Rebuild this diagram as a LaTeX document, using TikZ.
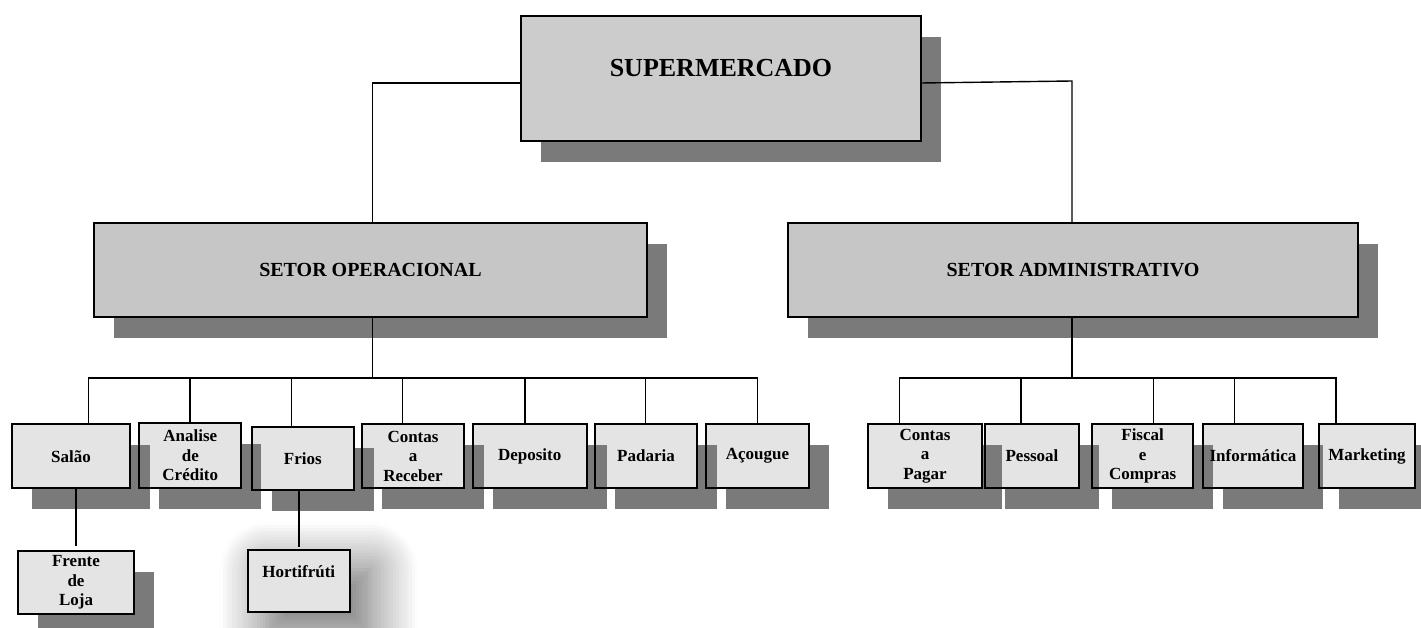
\documentclass[tikz,border=0pt]{standalone}
\usepackage{fontspec}
\setmainfont{Liberation Serif}
\usetikzlibrary{shadows.blur,calc}
\pgfdeclarelayer{fills}
\pgfsetlayers{fills,main}
\definecolor{topfill}{HTML}{CCCCCC}
\definecolor{midfill}{HTML}{C6C6C6}
\definecolor{lowfill}{HTML}{E4E4E4}
\definecolor{shadowgray}{HTML}{7A7A7A}
\tikzset{
  orgbox/.style={draw=black, line width=2pt, inner sep=0pt, outer sep=0pt, align=center},
  topbox/.style={orgbox, font=\fontsize{26}{30}\selectfont\bfseries},
  midbox/.style={orgbox, font=\fontsize{20}{24}\selectfont\bfseries, minimum height=94pt},
  lowbox/.style={orgbox, font=\fontsize{17}{19.5}\selectfont\bfseries, minimum height=64pt},
  link/.style={draw=black, line width=1.4pt},
}
\begin{document}
\begin{tikzpicture}[x=1pt,y=-1pt]
\useasboundingbox (0,0) rectangle (1421,628);
% level 1
\node[topbox, minimum width=400pt, minimum height=125pt, text height=18pt, text depth=21pt] (sup) at (721,78.5) {SUPERMERCADO};
% level 2
\node[midbox, minimum width=553pt] (op) at (370.5,270) {SETOR OPERACIONAL};
\node[midbox, minimum width=570pt] (adm) at (1073,270) {SETOR ADMINISTRATIVO};
% level 3 left
\node[lowbox, minimum width=118pt] (salao) at (71,456.3) {Salão};
\node[lowbox, minimum width=102pt, minimum height=65.6pt] (analise) at (190.3,455.5) {Analise\\de\\Crédito};
\node[lowbox, minimum width=102.3pt, minimum height=63.3pt] (frios) at (302.8,458.3) {Frios};
\node[lowbox, minimum width=102.6pt] (receber) at (413,456.3) {Contas\\a\\Receber};
\node[lowbox, minimum width=114pt, minimum height=63.4pt] (deposito) at (529.7,456) {Deposito};
\node[lowbox, minimum width=102.6pt, minimum height=63.4pt] (padaria) at (646,456) {Padaria};
\node[lowbox, minimum width=103.6pt, minimum height=63.4pt] (acougue) at (757.5,456) {Açougue};
\node[lowbox, minimum width=116.6pt, minimum height=63.3pt] (frente) at (76,582.3) {Frente\\de\\Loja};
\node[lowbox, minimum width=102.3pt, minimum height=62.6pt, text height=12pt, text depth=19pt] (horti) at (298.8,581) {Hortifrúti};
% level 3 right
\node[lowbox, minimum width=113.6pt] (pagar) at (925,456) {Contas\\a\\Pagar};
\node[lowbox, minimum width=94pt] (pessoal) at (1032,456) {Pessoal};
\node[lowbox, minimum width=101.7pt] (fiscal) at (1142.6,456) {Fiscal\\e\\Compras};
\node[lowbox, minimum width=100pt] (info) at (1253,456) {Informática};
\node[lowbox, minimum width=96.3pt] (mkt) at (1367,456) {Marketing};

% shadows and fills, drawn right to left: a box's shadow lies under its own fill
% but over the fill of the box to its right
\begin{pgfonlayer}{fills}
  \foreach \n/\c in {sup/topfill,adm/midfill,op/midfill,mkt/lowfill,info/lowfill,fiscal/lowfill,pessoal/lowfill,pagar/lowfill,acougue/lowfill,padaria/lowfill,deposito/lowfill,receber/lowfill,frios/lowfill,analise/lowfill,salao/lowfill,frente/lowfill}{
    \fill[shadowgray] ($(\n.north west)+(20,21)$) rectangle ($(\n.south east)+(20,21)$);
    \fill[\c] (\n.north west) rectangle (\n.south east);
  }
  \path[fill=lowfill, blur shadow={shadow xshift=20pt, shadow yshift=-20pt, shadow blur radius=48pt, shadow blur steps=16, shadow opacity=60}] (horti.north west) rectangle (horti.south east);
\end{pgfonlayer}

% connectors
\coordinate (jl) at (372.7,83);
\coordinate (jr) at (1072,81);
\draw[link] (sup.west |- jl) -- (jl) -- (jl |- op.north);
\draw[link] (sup.east |- jl) -- (jr) -- (jr |- adm.north);

\coordinate (od) at (372.7,378);
\coordinate (ad) at (1072,378);
\draw[link] (od |- op.south) -- (od);
\draw[link] (ad |- adm.south) -- (ad);

\coordinate (l1) at (88.3,378);
\coordinate (l2) at (190,378);
\coordinate (l3) at (291.7,378);
\coordinate (l4) at (402.3,378);
\coordinate (l5) at (525,378);
\coordinate (l6) at (645.7,378);
\coordinate (l7) at (757.7,378);
\draw[link] (l1 |- salao.north) -- (l1) -- (l7) -- (l7 |- acougue.north);
\draw[link] (l2) -- (l2 |- analise.north);
\draw[link] (l3) -- (l3 |- frios.north);
\draw[link] (l4) -- (l4 |- receber.north);
\draw[link] (l5) -- (l5 |- deposito.north);
\draw[link] (l6) -- (l6 |- padaria.north);

\coordinate (r1) at (899.4,378);
\coordinate (r2) at (1021,378);
\coordinate (r3) at (1153.4,378);
\coordinate (r4) at (1234.6,378);
\coordinate (r5) at (1336,378);
\draw[link] (r1 |- pagar.north) -- (r1) -- (r5) -- (r5 |- mkt.north);
\draw[link] (r2) -- (r2 |- pessoal.north);
\draw[link] (r3) -- (r3 |- fiscal.north);
\draw[link] (r4) -- (r4 |- info.north);

\draw[link] (frente.north |- salao.south) -- ([yshift=5pt]frente.north);
\draw[link] (horti.north |- frios.south) -- ([yshift=3pt]horti.north);
\end{tikzpicture}
\end{document}
